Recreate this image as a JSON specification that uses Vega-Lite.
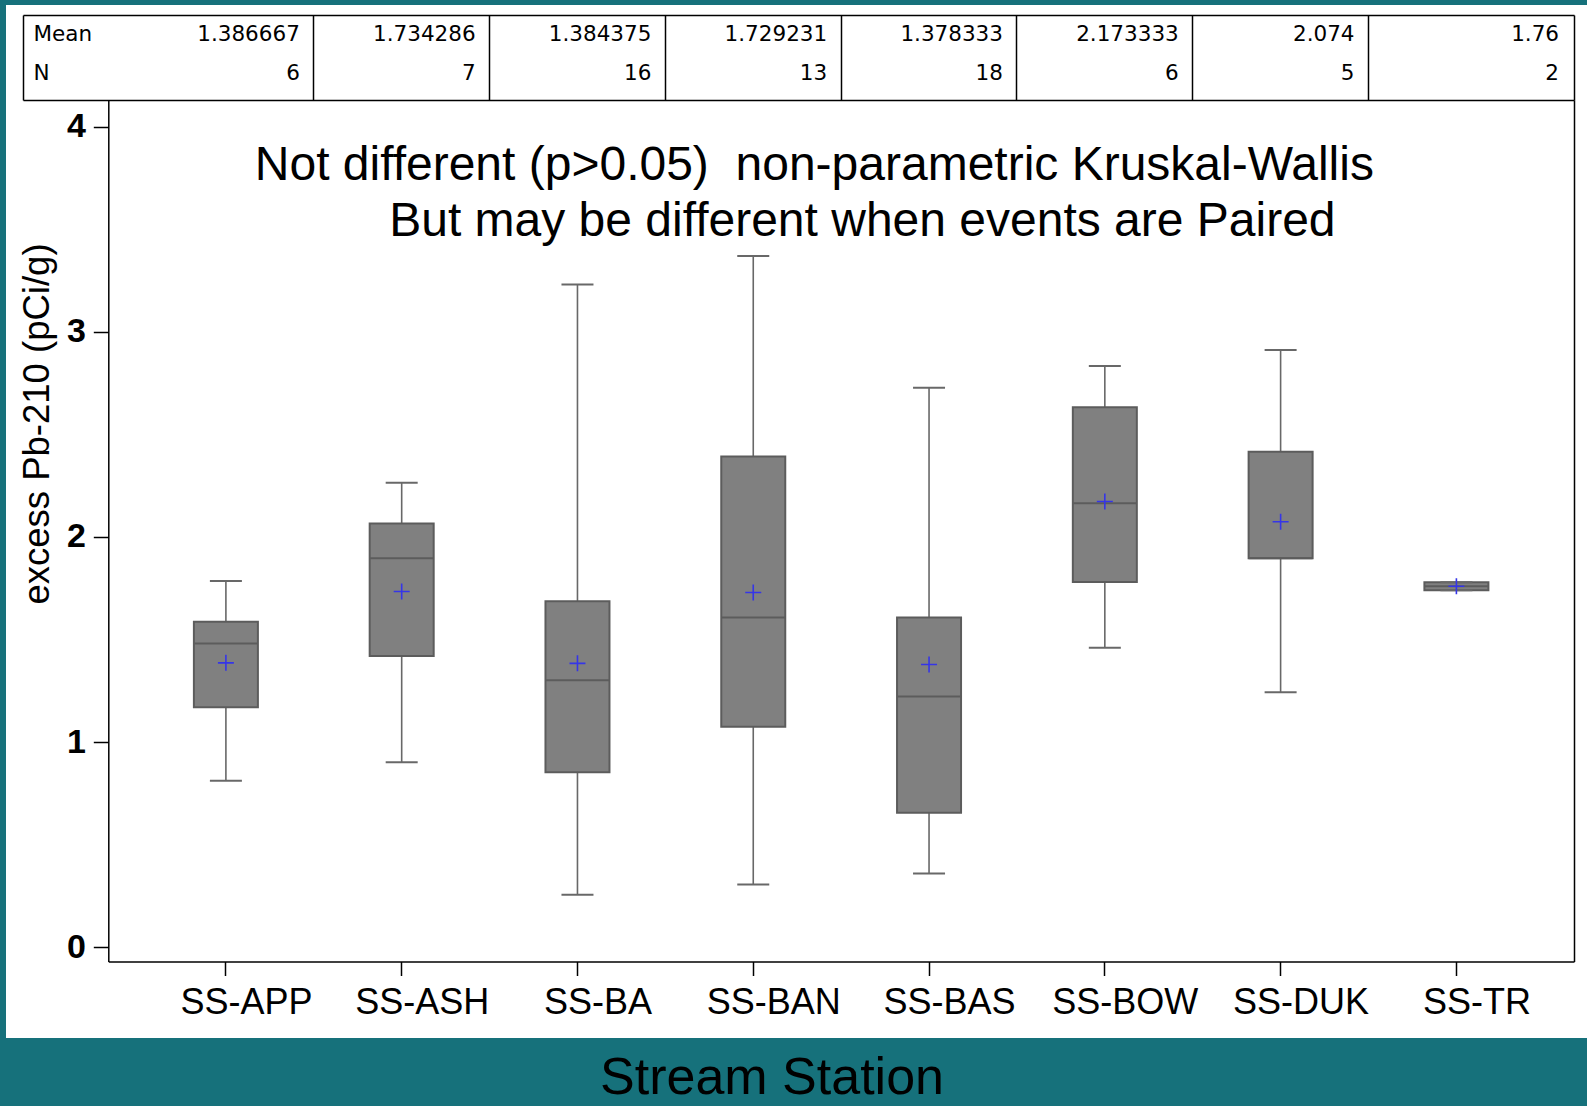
{
  "$schema": "https://vega.github.io/schema/vega-lite/v6.json",
  "width": 1581,
  "height": 1033,
  "padding": {"left": 6, "top": 5, "right": 0, "bottom": 68},
  "autosize": {"type": "none"},
  "background": "#16717b",
  "config": {
    "view": {"fill": "white", "stroke": null},
    "font": "Liberation Sans",
    "axis": {"grid": false, "labelColor": "black", "domainColor": "black", "tickColor": "black", "titleColor": "black"}
  },
  "datasets": {
    "stations": [
      {"station": "SS-APP", "min": 0.812, "q1": 1.170, "median": 1.481, "q3": 1.587, "max": 1.786, "Mean": 1.386667, "N": 6},
      {"station": "SS-ASH", "min": 0.902, "q1": 1.420, "median": 1.896, "q3": 2.066, "max": 2.264, "Mean": 1.734286, "N": 7},
      {"station": "SS-BA", "min": 0.256, "q1": 0.853, "median": 1.302, "q3": 1.687, "max": 3.231, "Mean": 1.384375, "N": 16},
      {"station": "SS-BAN", "min": 0.306, "q1": 1.075, "median": 1.608, "q3": 2.392, "max": 3.369, "Mean": 1.729231, "N": 13},
      {"station": "SS-BAS", "min": 0.360, "q1": 0.656, "median": 1.223, "q3": 1.608, "max": 2.727, "Mean": 1.378333, "N": 18},
      {"station": "SS-BOW", "min": 1.460, "q1": 1.781, "median": 2.165, "q3": 2.632, "max": 2.833, "Mean": 2.173333, "N": 6},
      {"station": "SS-DUK", "min": 1.243, "q1": 1.896, "median": 1.896, "q3": 2.415, "max": 2.911, "Mean": 2.074, "N": 5},
      {"station": "SS-TR", "min": 1.740, "q1": 1.740, "median": 1.760, "q3": 1.780, "max": 1.780, "Mean": 1.76, "N": 2}
    ]
  },
  "resolve": {"scale": {"x": "independent", "y": "independent"}},
  "layer": [
    {
      "data": {"name": "stations"},
      "transform": [{"fold": ["Mean", "N"], "as": ["stat", "value"]}],
      "resolve": {"axis": {"x": "independent", "y": "independent"}},
      "layer": [
        {
          "transform": [{"filter": "datum.station != 'SS-TR'"}],
          "mark": {"type": "text", "align": "right", "baseline": "alphabetic", "dx": -14, "dy": 3, "font": "DejaVu Sans", "fontSize": 21.5, "color": "black"},
          "encoding": {
            "x": {
              "field": "station", "type": "nominal", "bandPosition": 1,
              "scale": {"type": "band", "domain": ["SS-APP", "SS-ASH", "SS-BA", "SS-BAN", "SS-BAS", "SS-BOW", "SS-DUK", "SS-TR"], "range": [17, 1568], "paddingInner": 0, "paddingOuter": 0.4116, "align": 0.795},
              "axis": {"orient": "top", "offset": -10, "domain": true, "domainWidth": 1.5, "labels": false, "ticks": false,
                "title": "But may be different when events are Paired", "titleFont": "Liberation Sans", "titleFontSize": 48, "titleFontWeight": "normal", "titleLimit": 2000,
                "titleX": 382.7, "titleY": 220.6, "titleAlign": "left", "titleBaseline": "alphabetic", "titleAngle": 0}
            },
            "y": {
              "field": "stat", "type": "nominal",
              "scale": {"type": "band", "domain": ["Mean", "N"], "range": [10, 95], "paddingInner": 0, "paddingOuter": 0.11},
              "axis": {"orient": "left", "offset": -17, "domain": true, "domainWidth": 1.5, "ticks": false, "tickSize": 0, "labelAlign": "left", "labelPadding": -10, "labelBaseline": "alphabetic", "labelOffset": 3, "labelFont": "DejaVu Sans", "labelFontSize": 21.5, "title": null}
            },
            "text": {"field": "value", "type": "nominal"}
          }
        },
        {
          "transform": [{"filter": "datum.station == 'SS-TR'"}],
          "mark": {"type": "text", "align": "right", "baseline": "alphabetic", "dx": 14.7, "dy": 3, "font": "DejaVu Sans", "fontSize": 21.5, "color": "black"},
          "encoding": {
            "x": {
              "field": "station", "type": "nominal", "bandPosition": 1,
              "scale": {"type": "band", "domain": ["SS-APP", "SS-ASH", "SS-BA", "SS-BAN", "SS-BAS", "SS-BOW", "SS-DUK", "SS-TR"], "range": [17, 1568], "paddingInner": 0, "paddingOuter": 0.4116, "align": 0.795},
              "axis": {"orient": "bottom", "offset": -938, "domain": true, "domainWidth": 1.5, "labels": false, "ticks": true, "tickSize": -85, "tickWidth": 1.5, "bandPosition": 1,
                "tickColor": {"condition": {"test": "datum.value == 'SS-TR'", "value": "transparent"}, "value": "black"},
                "title": "Not different (p>0.05)\u00a0 non-parametric Kruskal-Wallis", "titleFont": "Liberation Sans", "titleFontSize": 48, "titleFontWeight": "normal", "titleLimit": 2000,
                "titleX": 248.3, "titleY": 79, "titleAlign": "left", "titleBaseline": "alphabetic", "titleAngle": 0}
            },
            "y": {
              "field": "stat", "type": "nominal",
              "scale": {"type": "band", "domain": ["Mean", "N"], "range": [10, 95], "paddingInner": 0, "paddingOuter": 0.11},
              "axis": {"orient": "right", "offset": -13, "domain": true, "domainWidth": 1.5, "labels": false, "ticks": false, "title": null}
            },
            "text": {"field": "value", "type": "nominal"}
          }
        }
      ]
    },
    {
      "data": {"name": "stations"},
      "resolve": {"axis": {"y": "independent"}},
      "layer": [
        {
          "mark": {"type": "rule", "color": "#686868", "strokeWidth": 1.6},
          "encoding": {
            "x": {
              "field": "station", "type": "nominal",
              "scale": {"type": "band", "domain": ["SS-APP", "SS-ASH", "SS-BA", "SS-BAN", "SS-BAS", "SS-BOW", "SS-DUK", "SS-TR"], "range": [102.3, 1568], "paddingInner": 0, "paddingOuter": 0.169},
              "axis": {"orient": "bottom", "offset": -76.5, "domain": true, "domainWidth": 1.5, "ticks": true, "tickSize": 14, "tickWidth": 1.5, "labelFont": "Liberation Sans", "labelFontSize": 36, "labelPadding": 10, "labelAngle": 0, "labelOffset": 20.5, "title": "Stream Station", "titleFont": "Liberation Sans", "titleFontSize": 52, "titleFontWeight": "normal", "titleX": 765.5, "titleY": 132, "titleBaseline": "alphabetic", "titleAlign": "center"}
            },
            "y": {
              "field": "min", "type": "quantitative",
              "scale": {"domain": [-0.0687, 4.1296], "range": [956.5, 95], "nice": false, "zero": false},
              "axis": {"orient": "left", "offset": -102.3, "values": [0, 1, 2, 3, 4], "domain": true, "domainWidth": 1.5, "tickSize": 15, "tickWidth": 1.5, "labelFont": "Liberation Sans", "labelFontSize": 34, "labelFontWeight": "bold", "labelPadding": 8, "title": "excess Pb-210 (pCi/g)", "titleFont": "Liberation Sans", "titleFontSize": 36.5, "titleFontWeight": "normal", "titleX": -70.5, "titleY": 418.5, "titleAngle": -90, "titleAlign": "center", "titleBaseline": "middle"}
            },
            "y2": {"field": "max"}
          }
        },
        {
          "mark": {"type": "bar", "size": 64, "fill": "#808080", "stroke": "#5c5c5c", "strokeWidth": 2, "opacity": 1},
          "encoding": {
            "x": {"field": "station", "type": "nominal"},
            "y": {"field": "q1", "type": "quantitative", "axis": null},
            "y2": {"field": "q3"}
          }
        },
        {
          "mark": {"type": "tick", "size": 64, "thickness": 2, "color": "#5c5c5c", "orient": "horizontal", "opacity": 1},
          "encoding": {
            "x": {"field": "station", "type": "nominal"},
            "y": {"field": "median", "type": "quantitative", "axis": null}
          }
        },
        {
          "mark": {"type": "tick", "size": 32, "thickness": 2, "color": "#686868", "orient": "horizontal", "opacity": 1},
          "encoding": {
            "x": {"field": "station", "type": "nominal"},
            "y": {"field": "min", "type": "quantitative", "axis": null}
          }
        },
        {
          "mark": {"type": "tick", "size": 32, "thickness": 2, "color": "#686868", "orient": "horizontal", "opacity": 1},
          "encoding": {
            "x": {"field": "station", "type": "nominal"},
            "y": {"field": "max", "type": "quantitative", "axis": null}
          }
        },
        {
          "mark": {"type": "point", "shape": "M-1,0L1,0M0,-1L0,1", "size": 256, "filled": false, "color": "#3535e8", "strokeWidth": 1.6, "opacity": 1},
          "encoding": {
            "x": {"field": "station", "type": "nominal"},
            "y": {
              "field": "Mean", "type": "quantitative",
              "axis": {"orient": "right", "offset": -13, "domain": true, "domainWidth": 1.5, "labels": false, "ticks": false, "title": null}
            }
          }
        }
      ]
    }
  ]
}
